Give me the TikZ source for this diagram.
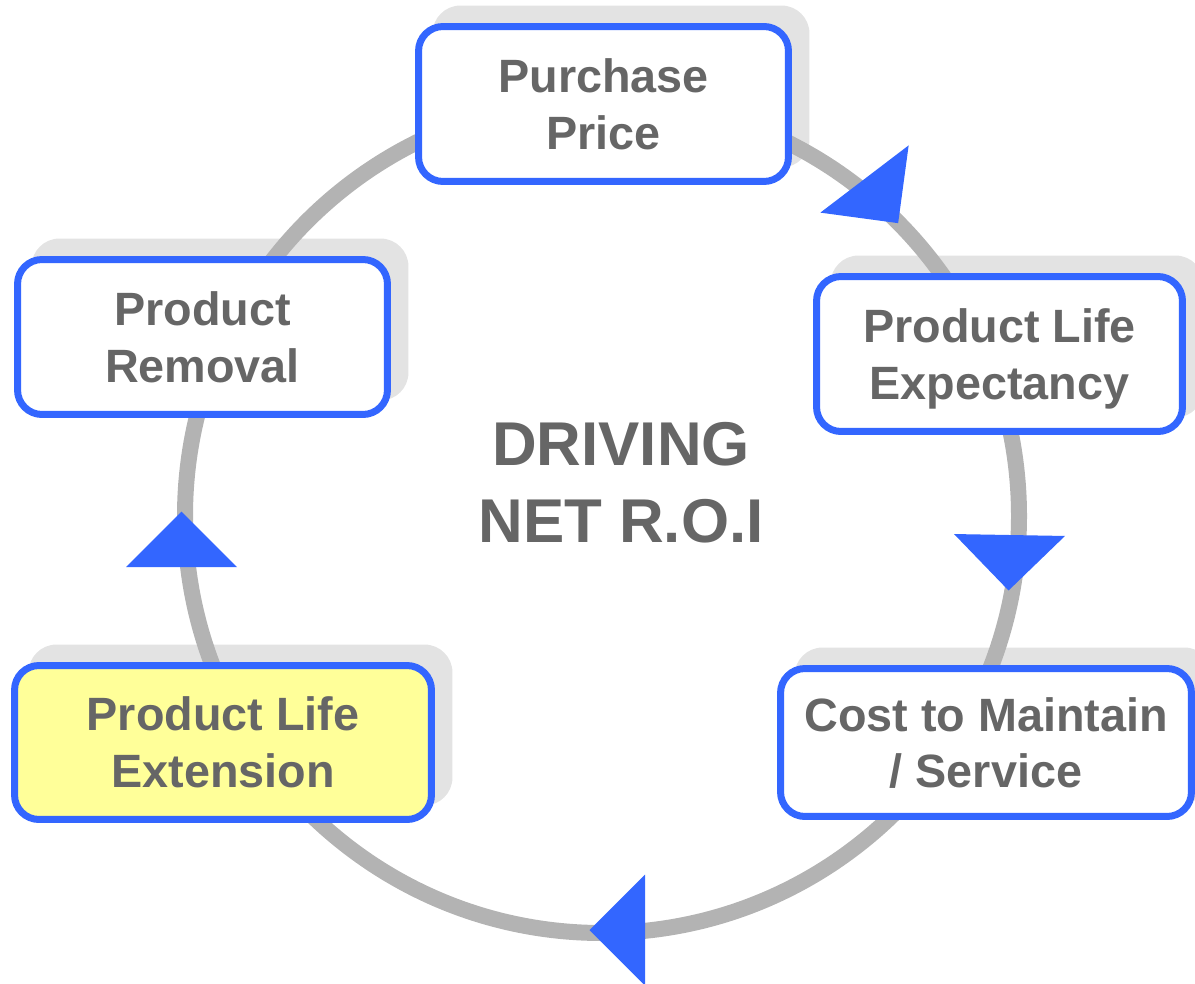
\documentclass[tikz,border=0pt]{standalone}
\usepackage{fontspec}
\setmainfont{Liberation Sans}
\pgfdeclarelayer{shade}
\pgfdeclarelayer{ring}
\pgfsetlayers{shade,ring,main}
\definecolor{ringgray}{HTML}{B3B3B3}
\definecolor{shadegray}{HTML}{E3E3E3}
\definecolor{stageblue}{HTML}{3366FF}
\definecolor{textgray}{HTML}{666666}
\definecolor{extyellow}{HTML}{FFFF99}
\begin{document}
\begin{tikzpicture}[
        x=0.02cm, y=-0.02cm,
        stage/.style={rectangle, draw=stageblue, line width=0.14cm, fill=white, rounded corners=0.49cm, align=center, text=textgray, inner sep=0pt, font=\fontsize{26.6}{32.3}\selectfont\bfseries},
        stage_shade/.style={fill=shadegray, rounded corners=0.56cm},
        ring/.style={draw=ringgray, line width=0.32cm},
        turn/.style={fill=stageblue},
        hub/.style={align=center, text=textgray, font=\fontsize{35.2}{43.7}\selectfont\bfseries}
    ]
        \useasboundingbox (0,0) rectangle (1195,983);

        % Stages of the cycle
        \node[stage, minimum width=7.4cm, minimum height=3.1cm] (purchase) at (603.5,104) {Purchase\\Price};
        \node[stage, minimum width=7.32cm, minimum height=3.1cm] (expectancy) at (999.5,354) {Product Life\\\smash{Expectancy}};
        \node[stage, minimum width=8.22cm, minimum height=2.96cm] (service) at (986,742.5) {Cost to Maintain\\\smash{/ Service}};
        \node[stage, fill=extyellow, minimum width=8.34cm, minimum height=3.08cm] (extension) at (223,742.5) {Product Life\\Extension};
        \node[stage, minimum width=7.4cm, minimum height=3.1cm] (removal) at (202.5,337) {Product\\Removal};

        % Centre label
        \node[hub] (roi) at (621,483) {DRIVING\\NET R.O.I};

        % Shadows behind the stages
        \begin{pgfonlayer}{shade}
            \foreach \n in {purchase,expectancy,service,extension,removal}
                \fill[stage_shade] ([shift={(17.5,-17.5)}]\n.south west) rectangle ([shift={(17.5,-17.5)}]\n.north east);
        \end{pgfonlayer}

        % Ring
        \coordinate (core) at (602,516);
        \begin{pgfonlayer}{ring}
            \draw[ring] (core) circle (417);
        \end{pgfonlayer}

        % Direction marks on the ring
        \fill[turn, shift={(864.5,179)}, rotate=-52.7] (55.5,0) -- (0,55.5) -- (0,-55.5) -- cycle;
        \fill[turn, shift={(1009.5,535)}, rotate=-91] (55.5,0) -- (0,55.5) -- (0,-55.5) -- cycle;
        \fill[turn, shift={(645,930)}, rotate=180] (55.5,0) -- (0,55.5) -- (0,-55.5) -- cycle;
        \fill[turn, shift={(181.5,567)}, rotate=90] (55.5,0) -- (0,55.5) -- (0,-55.5) -- cycle;
    \end{tikzpicture}
\end{document}
